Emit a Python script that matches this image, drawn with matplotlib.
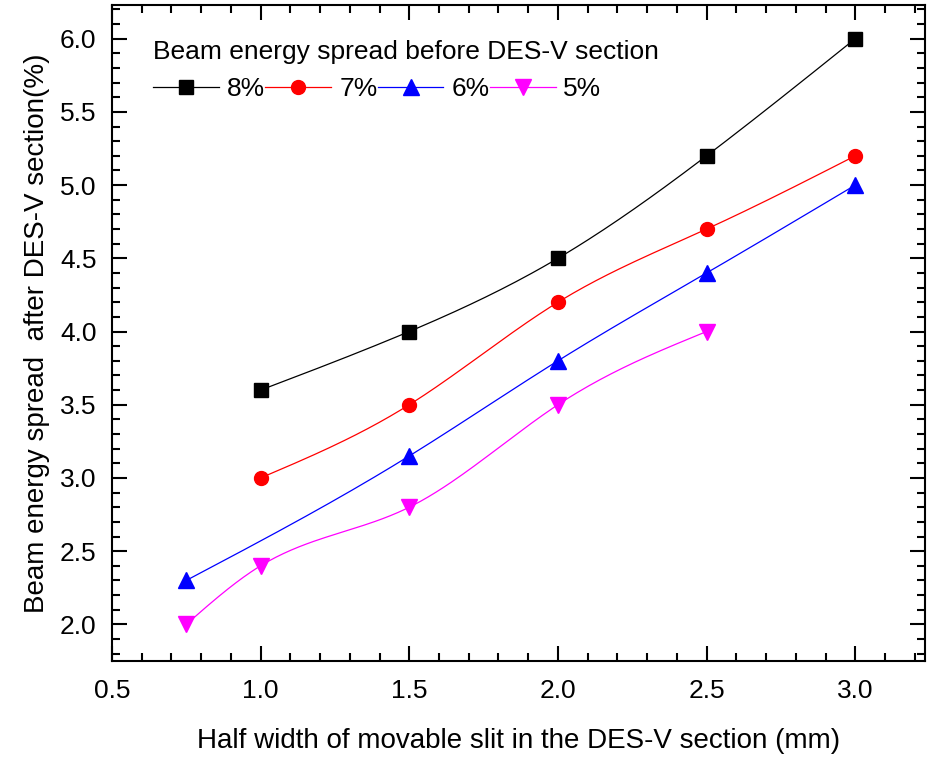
import numpy as np
import matplotlib
matplotlib.use("Agg")
from matplotlib import pyplot as plt
from matplotlib.ticker import MultipleLocator

plt.rcParams["font.family"] = ["Liberation Sans", "DejaVu Sans"]

# slit half width (mm) and energy spread after the section (%)
x_8 = [1.0, 1.5, 2.0, 2.5, 3.0]
y_8 = [3.6, 4.0, 4.5, 5.2, 6.0]
x_7 = [1.0, 1.5, 2.0, 2.5, 3.0]
y_7 = [3.0, 3.5, 4.2, 4.7, 5.2]
x_6 = [0.75, 1.5, 2.0, 2.5, 3.0]
y_6 = [2.3, 3.15, 3.8, 4.4, 5.0]
x_5 = [0.75, 1.0, 1.5, 2.0, 2.5]
y_5 = [2.0, 2.4, 2.8, 3.5, 4.0]
labels = ["8%", "7%", "6%", "5%"]

colors = ["black", "red", "blue", "magenta"]
markers = ["s", "o", "^", "v"]
msizes = [9.5, 10, 11, 11]


def natural_spline(x, y, n=40):
    # natural cubic spline through the points, for a smooth connecting line
    x = np.asarray(x, float)
    y = np.asarray(y, float)
    k = len(x)
    h = np.diff(x)
    A = np.zeros((k, k))
    b = np.zeros(k)
    A[0, 0] = 1
    A[-1, -1] = 1
    for i in range(1, k - 1):
        A[i, i - 1] = h[i - 1]
        A[i, i] = 2 * (h[i - 1] + h[i])
        A[i, i + 1] = h[i]
        b[i] = 6 * ((y[i + 1] - y[i]) / h[i] - (y[i] - y[i - 1]) / h[i - 1])
    m = np.linalg.solve(A, b)
    xs, ys = [], []
    for i in range(k - 1):
        t = np.linspace(x[i], x[i + 1], n)
        a = x[i + 1] - t
        c = t - x[i]
        s = (m[i] * a ** 3 + m[i + 1] * c ** 3) / (6 * h[i]) \
            + (y[i] / h[i] - m[i] * h[i] / 6) * a \
            + (y[i + 1] / h[i] - m[i + 1] * h[i] / 6) * c
        xs.append(t)
        ys.append(s)
    return np.concatenate(xs), np.concatenate(ys)


fig = plt.figure(figsize=(9.27, 7.58), dpi=100)
ax = fig.add_axes([0.1207, 0.128, 0.8773, 0.8654])

series = [(x_8, y_8), (x_7, y_7), (x_6, y_6), (x_5, y_5)]
handles = []
for i, (xv, yv) in enumerate(series):
    sx, sy = natural_spline(xv, yv)
    ax.plot(sx, sy, color=colors[i], lw=0.9, zorder=2)
    ax.plot(xv, yv, ls="none", marker=markers[i], ms=msizes[i],
            color=colors[i], zorder=3)
    h, = ax.plot([], [], color=colors[i], lw=0.9, marker=markers[i],
                 ms=msizes[i], label=labels[i])
    handles.append(h)

ax.set_xlim(0.5, 3.235)
ax.set_ylim(1.75, 6.23)
ax.xaxis.set_major_locator(MultipleLocator(0.5))
ax.xaxis.set_minor_locator(MultipleLocator(0.1))
ax.yaxis.set_major_locator(MultipleLocator(0.5))
ax.yaxis.set_minor_locator(MultipleLocator(0.1))
ax.xaxis.set_major_formatter(plt.FormatStrFormatter("%.1f"))
ax.yaxis.set_major_formatter(plt.FormatStrFormatter("%.1f"))

ax.tick_params(which="both", direction="in", top=True, right=True,
               width=1.5, labelsize=19, colors="black")
ax.tick_params(which="major", length=11)
ax.tick_params(axis="x", which="major", pad=13)
ax.tick_params(axis="y", which="major", pad=11)
ax.tick_params(which="minor", length=5.5)
for sp in ax.spines.values():
    sp.set_linewidth(1.5)

ax.set_xlabel("Half width of movable slit in the DES-V section (mm)",
              fontsize=20, labelpad=18)
ax.set_ylabel("Beam energy spread  after DES-V section(%)", fontsize=20,
              labelpad=7)

leg = ax.legend(handles=handles, ncol=4, loc="upper left",
                bbox_to_anchor=(0.051, 0.947), frameon=False, fontsize=19,
                title="Beam energy spread before DES-V section",
                title_fontsize=19, handlelength=2.5, handletextpad=0.3,
                columnspacing=0.0, borderaxespad=0, borderpad=0)
leg._legend_box.align = "left"

fig.savefig("out.png", dpi=100)
